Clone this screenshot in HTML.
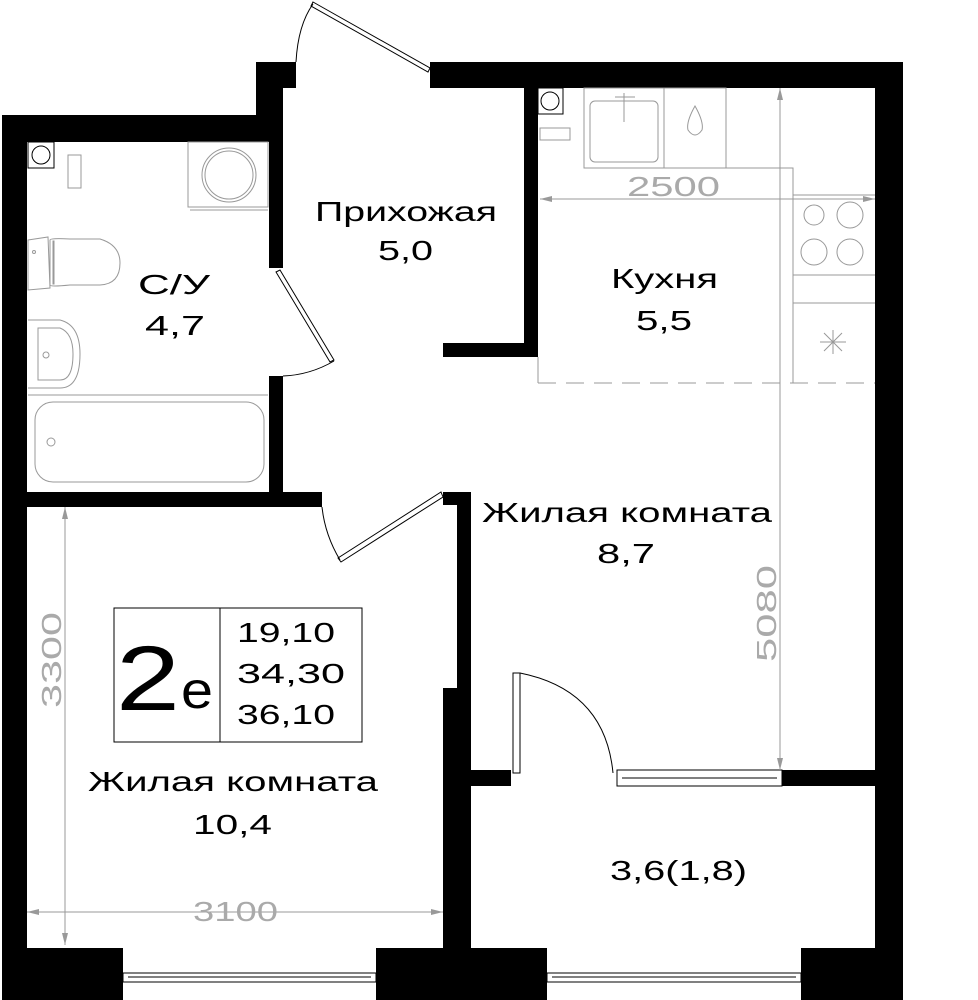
<!DOCTYPE html>
<html><head><meta charset="utf-8"><style>
html,body{margin:0;padding:0;background:#fff;}
svg{display:block;}
text{font-family:"Liberation Sans","DejaVu Sans",sans-serif;}
</style></head><body>
<svg width="978" height="1000" viewBox="0 0 978 1000" xmlns="http://www.w3.org/2000/svg">
<rect width="978" height="1000" fill="#fff"/>
<g fill="#000">
<rect x="2" y="115" width="281" height="27"/>
<rect x="2" y="115" width="25" height="885"/>
<rect x="256" y="62" width="40" height="26"/>
<rect x="256" y="88" width="27" height="30"/>
<rect x="269" y="88" width="14" height="180"/>
<rect x="269" y="376" width="14" height="116"/>
<rect x="2" y="492" width="320" height="15"/>
<rect x="430" y="62" width="473" height="26"/>
<rect x="875" y="62" width="28" height="938"/>
<rect x="524" y="88" width="14" height="269"/>
<rect x="443" y="343" width="95" height="14"/>
<rect x="443" y="492" width="28" height="13"/>
<rect x="457" y="492" width="14" height="200"/>
<rect x="443" y="688" width="28" height="312"/>
<rect x="471" y="770" width="40" height="16"/>
<rect x="782" y="770" width="121" height="16"/>
<rect x="2" y="948" width="901" height="52"/>
</g>
<g fill="#fff" stroke="#000" stroke-width="1">
<rect x="123" y="948" width="253" height="53" stroke="none"/>
<rect x="547" y="948" width="254" height="53" stroke="none"/>
<rect x="123" y="973" width="253" height="9"/>
<rect x="547" y="973" width="254" height="9"/>
<rect x="617" y="770" width="165" height="16"/>
<rect x="513" y="673" width="7" height="100"/>
</g>
<line x1="128" y1="977" x2="371" y2="977" stroke="#000"/>
<line x1="552" y1="977" x2="796" y2="977" stroke="#000"/>
<line x1="622" y1="778" x2="777" y2="778" stroke="#000"/>
<g fill="none" stroke="#000" stroke-width="1">
<polygon points="313,2 430,68 428,72 311,6" fill="#fff"/>
<path d="M296,62 Q298,25 313,4"/>
<polygon points="280,270 334,360 330,362 276,272" fill="#fff"/>
<path d="M334,361 Q310,375 283,376"/>
<polygon points="441,492 443,497 341,562 338,558" fill="#fff"/>
<path d="M340,560 Q325,535 322,507"/>
<path d="M520,673 Q605,690 613,773"/>
</g>
<g fill="none" stroke="#999" stroke-width="1">
<rect x="68" y="155" width="13" height="33"/>
<rect x="188" y="142" width="80" height="65"/>
<line x1="190" y1="210" x2="268" y2="210"/>
<circle cx="229" cy="175" r="27"/><circle cx="229" cy="175" r="24"/>
<path d="M28,240 L48,237 L50,288 L28,290 Z"/>
<path d="M50,240 Q50,238 70,239 L100,239 Q120,245 120,263 Q120,284 100,285 L70,285 Q50,287 50,285 Z"/>
<rect x="53" y="241" width="1" height="43"/>
<path d="M28,320 L60,320 Q80,325 80,354 Q80,388 60,388 L28,388"/>
<path d="M38,328 L60,328 Q73,333 73,354 Q73,380 60,380 L38,380 Z"/>
<circle cx="46" cy="355" r="3"/><circle cx="34" cy="252" r="1.5"/>
<line x1="28" y1="395" x2="268" y2="395"/>
<rect x="35" y="402" width="229" height="80" rx="18"/>
<circle cx="51" cy="442" r="4"/>
<rect x="540" y="128" width="30" height="12"/>
<rect x="584" y="88" width="142" height="80"/>
<line x1="664" y1="88" x2="664" y2="168"/>
<rect x="590" y="101" width="68" height="61" rx="5"/>
<path d="M624,93 L624,122 M615,97 L635,97"/>
<path d="M695,106 Q686,122 688,130 Q695,140 702,130 Q704,122 695,106 Z"/>
<polyline points="726,168 793,168 793,383"/>
<line x1="793" y1="195" x2="875" y2="195"/>
<line x1="793" y1="275" x2="875" y2="275"/>
<line x1="793" y1="303" x2="875" y2="303"/>
<circle cx="814" cy="215" r="10"/><circle cx="850" cy="215" r="13"/>
<circle cx="814" cy="252" r="13"/><circle cx="850" cy="252" r="13"/>
<path d="M820,342 L846,342 M833,330 L833,354 M824,333 L842,351 M842,333 L824,351"/>
<line x1="538" y1="383" x2="875" y2="383" stroke-dasharray="18,10"/>
<line x1="538" y1="357" x2="538" y2="383"/>
<line x1="540" y1="199" x2="875" y2="199"/>
<line x1="780" y1="88" x2="780" y2="770"/>
<line x1="65" y1="507" x2="65" y2="945"/>
<line x1="27" y1="912" x2="443" y2="912"/>
</g>
<g fill="#999">
<polygon points="540,199 552,196 552,202"/><polygon points="875,199 863,196 863,202"/>
<polygon points="780,88 777,100 783,100"/><polygon points="780,770 777,758 783,758"/>
<polygon points="65,507 62,519 68,519"/><polygon points="65,945 62,933 68,933"/>
<polygon points="27,912 39,909 39,915"/><polygon points="443,912 431,909 431,915"/>
</g>
<g fill="#fff" stroke="#000">
<rect x="28" y="142" width="26" height="26"/><circle cx="41" cy="155" r="9" fill="none"/>
<rect x="538" y="88" width="25" height="26"/><circle cx="550" cy="101" r="9" fill="none"/>
</g>
<g fill="#aaa" font-size="28" lengthAdjust="spacingAndGlyphs">
<text x="627" y="196" textLength="93" lengthAdjust="spacingAndGlyphs">2500</text>
<text x="193" y="921" textLength="85" lengthAdjust="spacingAndGlyphs">3100</text>
<text transform="translate(776,662) rotate(-90)" textLength="97" lengthAdjust="spacingAndGlyphs">5080</text>
<text transform="translate(61,708) rotate(-90)" textLength="96" lengthAdjust="spacingAndGlyphs">3300</text>
</g>
<g fill="#000" font-size="28">
<text x="315" y="221" textLength="182" lengthAdjust="spacingAndGlyphs">Прихожая</text>
<text x="378" y="260" textLength="55" lengthAdjust="spacingAndGlyphs">5,0</text>
<text x="138" y="294" textLength="72" lengthAdjust="spacingAndGlyphs">С/У</text>
<text x="145" y="335" textLength="60" lengthAdjust="spacingAndGlyphs">4,7</text>
<text x="611" y="288" textLength="107" lengthAdjust="spacingAndGlyphs">Кухня</text>
<text x="636" y="330" textLength="56" lengthAdjust="spacingAndGlyphs">5,5</text>
<text x="482" y="522" textLength="290" lengthAdjust="spacingAndGlyphs">Жилая комната</text>
<text x="597" y="563" textLength="58" lengthAdjust="spacingAndGlyphs">8,7</text>
<text x="88" y="791" textLength="290" lengthAdjust="spacingAndGlyphs">Жилая комната</text>
<text x="193" y="834" textLength="79" lengthAdjust="spacingAndGlyphs">10,4</text>
<text x="610" y="880" textLength="137" lengthAdjust="spacingAndGlyphs">3,6(1,8)</text>
<text x="237" y="642" textLength="98" lengthAdjust="spacingAndGlyphs">19,10</text>
<text x="237" y="683" textLength="108" lengthAdjust="spacingAndGlyphs">34,30</text>
<text x="237" y="724" textLength="98" lengthAdjust="spacingAndGlyphs">36,10</text>
</g>
<rect x="114" y="608" width="248" height="134" fill="none" stroke="#000"/>
<line x1="220" y1="608" x2="220" y2="742" stroke="#000"/>
<text x="116" y="710" font-size="92" fill="#000" textLength="64" lengthAdjust="spacingAndGlyphs">2</text>
<text x="181" y="708" font-size="52" fill="#000" textLength="32" lengthAdjust="spacingAndGlyphs">е</text>
</svg>
</body></html>
